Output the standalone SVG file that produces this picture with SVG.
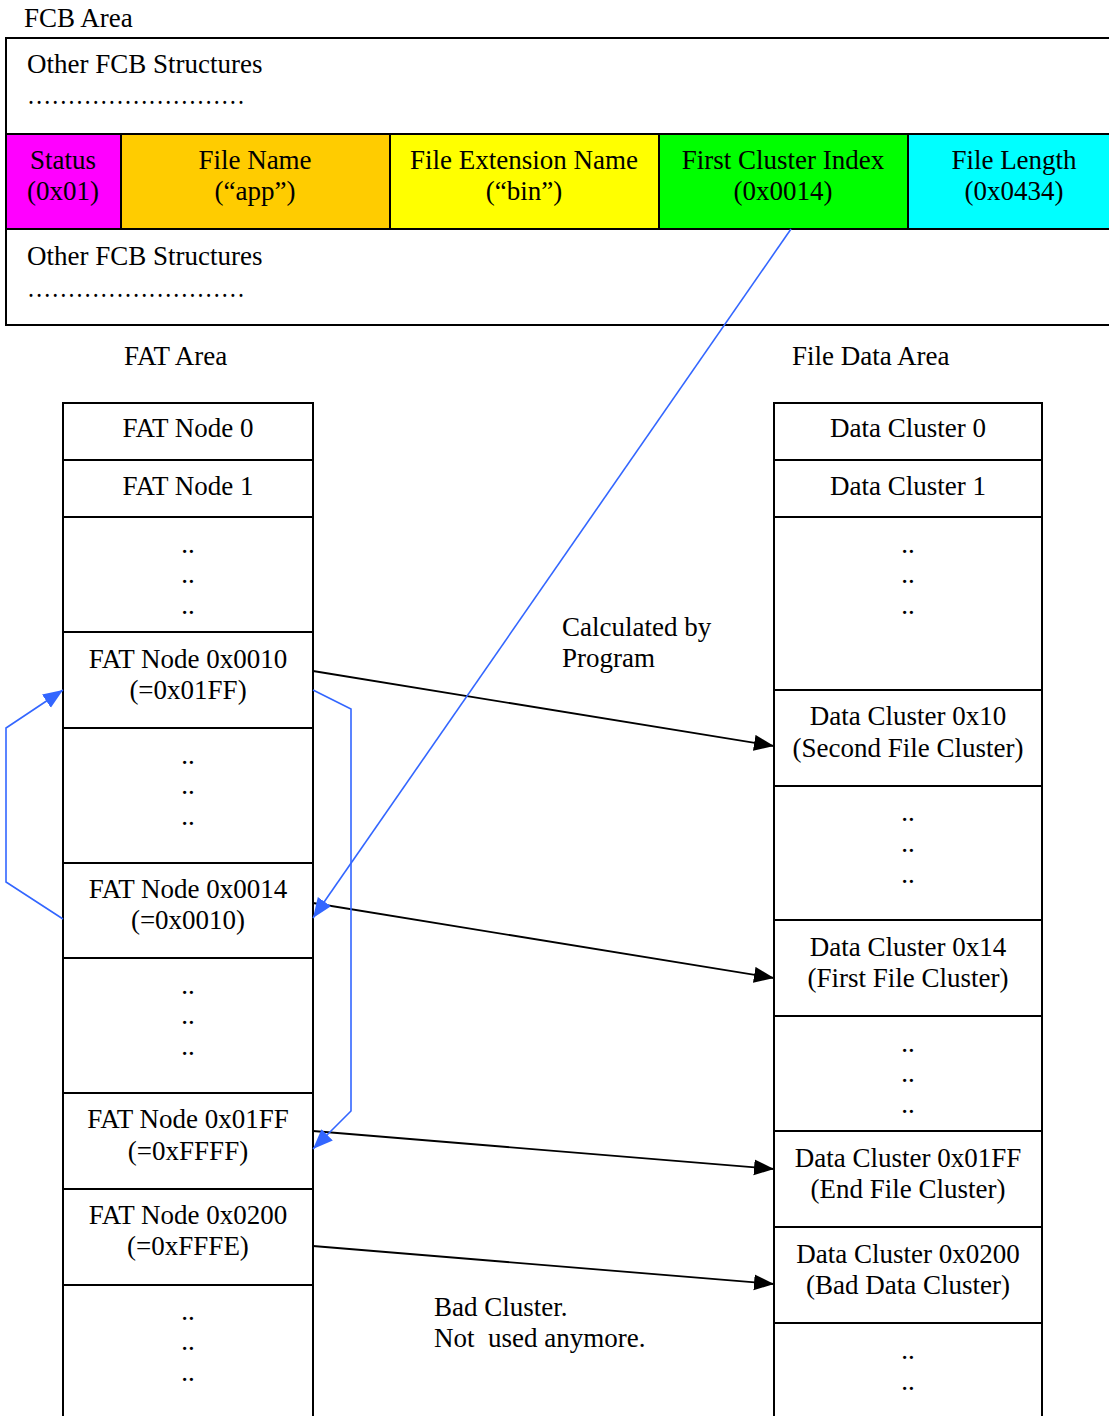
<svg xmlns="http://www.w3.org/2000/svg" width="1109" height="1416" viewBox="0 0 1109 1416">
  <style>
    text { font-family: "Liberation Serif", "Times New Roman", serif; font-size: 27px; fill: #000; }
    .c { text-anchor: middle; }
    .box { fill: #fff; stroke: #000; stroke-width: 2; }
    .cell { stroke: #000; stroke-width: 2; }
    .sep { stroke: #000; stroke-width: 2; }
    .blk { fill: none; stroke: #000; stroke-width: 1.8; marker-end: url(#ahBlack); }
    .blu { fill: none; stroke: #3366FF; stroke-width: 1.6; marker-end: url(#ahBlue); }
  </style>
  <defs>
    <marker id="ahBlack" markerUnits="userSpaceOnUse" markerWidth="22" markerHeight="18" refX="20" refY="8" orient="auto">
      <path d="M0,0 L20,8 L0,16 Z" fill="#000"/>
    </marker>
    <marker id="ahBlue" markerUnits="userSpaceOnUse" markerWidth="22" markerHeight="18" refX="20" refY="8" orient="auto">
      <path d="M0,0 L20,8 L0,16 Z" fill="#3366FF"/>
    </marker>
  </defs>

  <rect width="1109" height="1416" fill="#fff"/>

  <!-- FCB area -->
  <g id="fcb-area">
    <text x="24" y="27">FCB Area</text>
    <rect class="box" x="6" y="38" width="1110" height="287"/>
    <text x="27" y="73">Other FCB Structures</text>
    <text x="27" y="104" textLength="218" lengthAdjust="spacingAndGlyphs">………………………</text>
    <text x="27" y="265">Other FCB Structures</text>
    <text x="27" y="297" textLength="218" lengthAdjust="spacingAndGlyphs">………………………</text>
  </g>
  <g id="fcb-status">
    <rect class="cell" x="6" y="134" width="115" height="95" fill="#FF00FF"/>
    <text class="c" x="63" y="169">Status</text>
    <text class="c" x="63" y="200">(0x01)</text>
  </g>
  <g id="fcb-name">
    <rect class="cell" x="121" y="134" width="269" height="95" fill="#FFCC00"/>
    <text class="c" x="255" y="169">File Name</text>
    <text class="c" x="255" y="200">(“app”)</text>
  </g>
  <g id="fcb-ext">
    <rect class="cell" x="390" y="134" width="269" height="95" fill="#FFFF00"/>
    <text class="c" x="524" y="169">File Extension Name</text>
    <text class="c" x="524" y="200">(“bin”)</text>
  </g>
  <g id="fcb-first">
    <rect class="cell" x="659" y="134" width="249" height="95" fill="#00FF00"/>
    <text class="c" x="783" y="169">First Cluster Index</text>
    <text class="c" x="783" y="200">(0x0014)</text>
  </g>
  <g id="fcb-length">
    <rect class="cell" x="908" y="134" width="210" height="95" fill="#00FFFF"/>
    <text class="c" x="1014" y="169">File Length</text>
    <text class="c" x="1014" y="200">(0x0434)</text>
  </g>

  <!-- FAT area -->
  <g id="fat-area">
    <text x="124" y="365">FAT Area</text>
    <rect class="box" x="63" y="403" width="250" height="1020"/>
    <line class="sep" x1="63" y1="460" x2="313" y2="460"/>
    <line class="sep" x1="63" y1="517" x2="313" y2="517"/>
    <line class="sep" x1="63" y1="632" x2="313" y2="632"/>
    <line class="sep" x1="63" y1="728" x2="313" y2="728"/>
    <line class="sep" x1="63" y1="863" x2="313" y2="863"/>
    <line class="sep" x1="63" y1="958" x2="313" y2="958"/>
    <line class="sep" x1="63" y1="1093" x2="313" y2="1093"/>
    <line class="sep" x1="63" y1="1189" x2="313" y2="1189"/>
    <line class="sep" x1="63" y1="1285" x2="313" y2="1285"/>
  </g>
  <g id="fat-node-0"><text class="c" x="188" y="437">FAT Node 0</text></g>
  <g id="fat-node-1"><text class="c" x="188" y="495">FAT Node 1</text></g>
  <g id="fat-gap-1">
    <text class="c" x="188" y="553">..</text>
    <text class="c" x="188" y="583">..</text>
    <text class="c" x="188" y="614">..</text>
  </g>
  <g id="fat-node-0010">
    <text class="c" x="188" y="668">FAT Node 0x0010</text>
    <text class="c" x="188" y="699">(=0x01FF)</text>
  </g>
  <g id="fat-gap-2">
    <text class="c" x="188" y="764">..</text>
    <text class="c" x="188" y="794">..</text>
    <text class="c" x="188" y="825">..</text>
  </g>
  <g id="fat-node-0014">
    <text class="c" x="188" y="898">FAT Node 0x0014</text>
    <text class="c" x="188" y="929">(=0x0010)</text>
  </g>
  <g id="fat-gap-3">
    <text class="c" x="188" y="994">..</text>
    <text class="c" x="188" y="1024">..</text>
    <text class="c" x="188" y="1055">..</text>
  </g>
  <g id="fat-node-01ff">
    <text class="c" x="188" y="1128">FAT Node 0x01FF</text>
    <text class="c" x="188" y="1160">(=0xFFFF)</text>
  </g>
  <g id="fat-node-0200">
    <text class="c" x="188" y="1224">FAT Node 0x0200</text>
    <text class="c" x="188" y="1255">(=0xFFFE)</text>
  </g>
  <g id="fat-gap-4">
    <text class="c" x="188" y="1320">..</text>
    <text class="c" x="188" y="1350">..</text>
    <text class="c" x="188" y="1381">..</text>
  </g>

  <!-- File data area -->
  <g id="data-area">
    <text x="792" y="365">File Data Area</text>
    <rect class="box" x="774" y="403" width="268" height="1020"/>
    <line class="sep" x1="774" y1="460" x2="1042" y2="460"/>
    <line class="sep" x1="774" y1="517" x2="1042" y2="517"/>
    <line class="sep" x1="774" y1="690" x2="1042" y2="690"/>
    <line class="sep" x1="774" y1="786" x2="1042" y2="786"/>
    <line class="sep" x1="774" y1="920" x2="1042" y2="920"/>
    <line class="sep" x1="774" y1="1016" x2="1042" y2="1016"/>
    <line class="sep" x1="774" y1="1131" x2="1042" y2="1131"/>
    <line class="sep" x1="774" y1="1227" x2="1042" y2="1227"/>
    <line class="sep" x1="774" y1="1323" x2="1042" y2="1323"/>
  </g>
  <g id="data-cluster-0"><text class="c" x="908" y="437">Data Cluster 0</text></g>
  <g id="data-cluster-1"><text class="c" x="908" y="495">Data Cluster 1</text></g>
  <g id="data-gap-1">
    <text class="c" x="908" y="553">..</text>
    <text class="c" x="908" y="583">..</text>
    <text class="c" x="908" y="614">..</text>
  </g>
  <g id="data-cluster-10">
    <text class="c" x="908" y="725">Data Cluster 0x10</text>
    <text class="c" x="908" y="757">(Second File Cluster)</text>
  </g>
  <g id="data-gap-2">
    <text class="c" x="908" y="821">..</text>
    <text class="c" x="908" y="852">..</text>
    <text class="c" x="908" y="883">..</text>
  </g>
  <g id="data-cluster-14">
    <text class="c" x="908" y="956">Data Cluster 0x14</text>
    <text class="c" x="908" y="987">(First File Cluster)</text>
  </g>
  <g id="data-gap-3">
    <text class="c" x="908" y="1052">..</text>
    <text class="c" x="908" y="1082">..</text>
    <text class="c" x="908" y="1113">..</text>
  </g>
  <g id="data-cluster-01ff">
    <text class="c" x="908" y="1167">Data Cluster 0x01FF</text>
    <text class="c" x="908" y="1198">(End File Cluster)</text>
  </g>
  <g id="data-cluster-0200">
    <text class="c" x="908" y="1263">Data Cluster 0x0200</text>
    <text class="c" x="908" y="1294">(Bad Data Cluster)</text>
  </g>
  <g id="data-gap-4">
    <text class="c" x="908" y="1359">..</text>
    <text class="c" x="908" y="1390">..</text>
  </g>

  <!-- free labels -->
  <g id="labels">
    <text x="562" y="636">Calculated by</text>
    <text x="562" y="667">Program</text>
    <text x="434" y="1316">Bad Cluster.</text>
    <text x="434" y="1347" xml:space="preserve">Not  used anymore.</text>
  </g>

  <!-- connectors -->
  <g id="connectors">
    <line class="blk" x1="313" y1="671" x2="774" y2="746"/>
    <line class="blk" x1="313" y1="903" x2="774" y2="978"/>
    <line class="blk" x1="313" y1="1131" x2="774" y2="1169"/>
    <line class="blk" x1="313" y1="1246" x2="774" y2="1284"/>
    <line class="blu" x1="791" y1="229" x2="313" y2="918"/>
    <polyline class="blu" points="63,919 6,882 6,728 63,690"/>
    <polyline class="blu" points="313,690 351,709 351,1111 313,1149"/>
  </g>
</svg>
